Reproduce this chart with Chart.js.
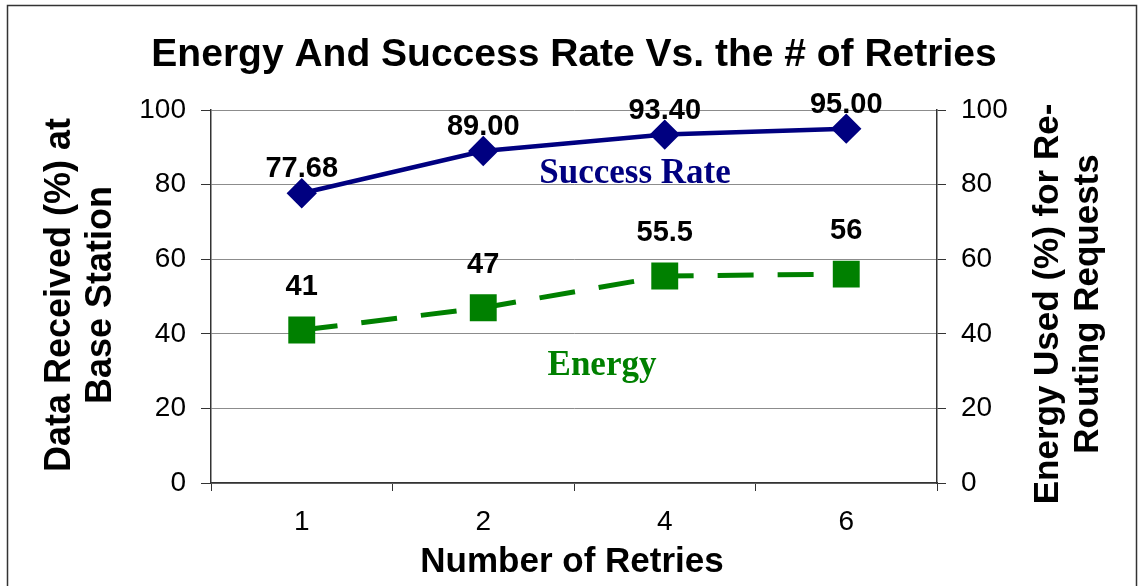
<!DOCTYPE html>
<html>
<head>
<meta charset="utf-8">
<script src="https://cdn.jsdelivr.net/npm/chart.js@4.4.0/dist/chart.umd.min.js"></script>
<style>
  html, body { margin: 0; padding: 0; background: #fff; }
  #wrap { width: 1139px; height: 586px; }
</style>
</head>
<body>
<div id="wrap"><canvas id="chart" width="1139" height="586"></canvas></div>
<script>
const retries = ['1', '2', '4', '6'];
const successRate = [77.68, 89.00, 93.40, 95.00];
const successLabels = ['77.68', '89.00', '93.40', '95.00'];
const energy = [41, 47, 55.5, 56];
const energyLabels = ['41', '47', '55.5', '56'];

const NAVY = '#000080';
const GREEN = '#008000';
const AXIS = '#333333';
const GRID = '#8c8c8c';
const SANS = '"Liberation Sans", Arial, sans-serif';
const SERIF = '"Liberation Serif", "Times New Roman", serif';

// draws frame, titles, value labels and the in-plot series names
const decorations = {
    id: 'decorations',
    afterDraw(chart) {
        const ctx = chart.ctx;
        ctx.save();

        ctx.strokeStyle = '#333';
        ctx.lineWidth = 1.5;
        ctx.strokeRect(7.5, 5.5, 1129, 620);

        ctx.fillStyle = '#000';
        ctx.textAlign = 'center';
        ctx.textBaseline = 'alphabetic';
        ctx.font = 'bold 39px ' + SANS;
        ctx.fillText('Energy And Success Rate Vs. the # of Retries', 574, 66);

        ctx.font = 'bold 35px ' + SANS;
        ctx.fillText('Number of Retries', 572, 572);

        ctx.textBaseline = 'middle';
        ctx.save();
        ctx.translate(0, 295);
        ctx.rotate(-Math.PI / 2);
        ctx.font = 'bold 36px ' + SANS;
        ctx.fillText('Data Received (%) at', 0, 60);
        ctx.fillText('Base Station', 0, 101);
        ctx.restore();

        ctx.save();
        ctx.translate(0, 304);
        ctx.rotate(-Math.PI / 2);
        ctx.font = 'bold 35px ' + SANS;
        ctx.fillText('Energy Used (%) for Re-', 0, 1048);
        ctx.fillText('Routing Requests', 0, 1088);
        ctx.restore();

        // value labels
        ctx.font = 'bold 29px ' + SANS;
        const m0 = chart.getDatasetMeta(0).data;
        m0.forEach((p, i) => ctx.fillText(successLabels[i], p.x, p.y - 24));
        const m1 = chart.getDatasetMeta(1).data;
        m1.forEach((p, i) => ctx.fillText(energyLabels[i], p.x, p.y - 43));

        // series names inside plot
        ctx.textBaseline = 'alphabetic';
        ctx.font = 'bold 35px ' + SERIF;
        ctx.fillStyle = NAVY;
        ctx.fillText('Success Rate', 635, 183);
        ctx.fillStyle = GREEN;
        ctx.fillText('Energy', 602, 375);

        ctx.restore();
    }
};

const tickFont = { family: SANS, size: 28 };

new Chart(document.getElementById('chart').getContext('2d'), {
    type: 'line',
    data: {
        labels: retries,
        datasets: [{
            label: 'Success Rate',
            data: successRate,
            borderColor: NAVY,
            backgroundColor: NAVY,
            borderWidth: 4.5,
            pointStyle: 'rectRot',
            pointRadius: 12,
            pointHoverRadius: 12,
            yAxisID: 'y'
        }, {
            label: 'Energy',
            data: energy,
            borderColor: GREEN,
            backgroundColor: GREEN,
            borderWidth: 5,
            borderDash: [36, 24],
            pointStyle: 'rect',
            pointRadius: 15.5,
            pointHoverRadius: 15.5,
            yAxisID: 'y'
        }]
    },
    options: {
        responsive: false,
        animation: false,
        layout: { padding: { top: 110, left: 0, right: 0, bottom: 0 } },
        plugins: {
            legend: { display: false },
            tooltip: { enabled: false }
        },
        scales: {
            x: {
                offset: true,
                grid: { offset: true, drawOnChartArea: false, tickLength: 8, tickColor: AXIS },
                border: { color: AXIS, width: 1.5 },
                ticks: { color: '#000', font: tickFont, padding: 14 },
                afterFit(s) { s.height = 103; }
            },
            y: {
                position: 'left',
                min: 0,
                max: 100,
                ticks: { stepSize: 20, color: '#000', font: tickFont, padding: 15 },
                grid: { color: GRID, tickColor: AXIS, tickLength: 10 },
                border: { color: AXIS, width: 1.5 },
                afterFit(s) { s.width = 211; }
            },
            y2: {
                position: 'right',
                min: 0,
                max: 100,
                ticks: { stepSize: 20, color: '#000', font: tickFont, padding: 15 },
                grid: { drawOnChartArea: false, tickColor: AXIS, tickLength: 9 },
                border: { color: AXIS, width: 1.5 },
                afterFit(s) { s.width = 202; }
            }
        }
    },
    plugins: [decorations]
});
</script>
</body>
</html>
